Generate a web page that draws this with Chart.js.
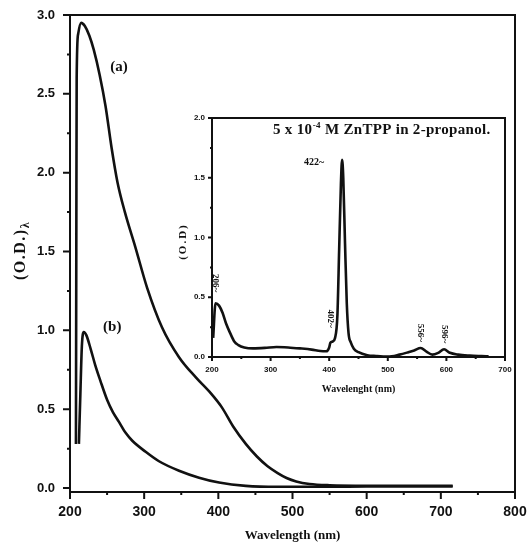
<!DOCTYPE html>
<html>
<head>
<meta charset="utf-8">
<script src="https://cdn.jsdelivr.net/npm/chart.js@4.4.0/dist/chart.umd.min.js"></script>
<style>
  html, body { margin: 0; padding: 0; background: #fff; }
  #wrap { position: relative; width: 529px; height: 543px; }
  #main { position: absolute; left: 0; top: 0; }
  #inset { position: absolute; left: 170px; top: 100px; }
</style>
</head>
<body>
<div id="wrap">
  <canvas id="main" width="529" height="543"></canvas>
  <canvas id="inset" width="345" height="300"></canvas>
</div>
<script>
// main spectra: (a) and (b)
var waveA = [208, 208.5, 209, 211, 215, 220, 226, 232, 240, 248, 256, 264, 274, 288, 304, 324, 347, 370, 390, 405, 420, 437, 452, 466, 480, 492, 505, 523, 550, 600, 650, 716];
var odA = [0.28, 1.5, 2.6, 2.88, 2.95, 2.93, 2.87, 2.78, 2.62, 2.42, 2.16, 1.94, 1.75, 1.53, 1.27, 1.02, 0.83, 0.70, 0.60, 0.51, 0.39, 0.28, 0.20, 0.14, 0.095, 0.064, 0.042, 0.026, 0.018, 0.015, 0.015, 0.015];
var waveB = [212, 214, 216, 218.5, 222, 228, 234, 241, 250, 258, 266, 275, 284, 302, 320, 347, 374, 401, 437, 480, 550, 600, 650, 716];
var odB = [0.28, 0.6, 0.9, 0.99, 0.97, 0.88, 0.78, 0.68, 0.56, 0.48, 0.42, 0.35, 0.30, 0.23, 0.17, 0.11, 0.066, 0.035, 0.014, 0.008, 0.008, 0.01, 0.01, 0.01];
var mainXTicks = [200, 300, 400, 500, 600, 700, 800];
var mainYTicks = [0, 0.5, 1.0, 1.5, 2.0, 2.5, 3.0];

// inset: ZnTPP in 2-propanol
var insetWave = [202, 206, 212, 218, 224, 231, 238, 245, 255, 270, 290, 310, 330, 350, 370, 385, 395, 400, 402, 406, 410, 414, 417, 420, 422, 424, 427, 430, 433, 437, 442, 450, 465, 480, 500, 520, 535, 545, 556, 566, 576, 586, 596, 606, 620, 640, 660, 672];
var insetOd = [0.16, 0.45, 0.43, 0.37, 0.28, 0.20, 0.13, 0.10, 0.08, 0.072, 0.076, 0.084, 0.08, 0.072, 0.062, 0.05, 0.048, 0.08, 0.12, 0.13, 0.16, 0.35, 0.9, 1.45, 1.65, 1.5, 0.95, 0.45, 0.2, 0.12, 0.07, 0.04, 0.015, 0.008, 0.003, 0.02, 0.04, 0.055, 0.075, 0.045, 0.02, 0.035, 0.065, 0.035, 0.02, 0.012, 0.008, 0.006];
var insetPeaks = [206, 402, 422, 556, 596];
var insetXTicks = [200, 300, 400, 500, 600, 700];
var insetYTicks = [0, 0.5, 1.0, 1.5, 2.0];

var INK = '#111';
var SANS = 'Liberation Sans';
var SERIF = 'Liberation Serif';

function pairs(xs, ys) {
  return xs.map(function (x, i) { return { x: x, y: ys[i] }; });
}

function midpoints(arr) {
  var out = [];
  for (var i = 0; i < arr.length - 1; i++) out.push((arr[i] + arr[i + 1]) / 2);
  return out;
}

// box round the plot area plus outward major/minor ticks
var frame = {
  id: 'frame',
  afterDatasetsDraw: function (chart, args, o) {
    var ctx = chart.ctx, a = chart.chartArea;
    var x = chart.scales.x, y = chart.scales.y;
    ctx.save();
    ctx.strokeStyle = INK;
    ctx.lineWidth = o.width;
    ctx.strokeRect(a.left, a.top, a.right - a.left, a.bottom - a.top);
    ctx.beginPath();
    o.xTicks.forEach(function (v) {
      var p = x.getPixelForValue(v);
      ctx.moveTo(p, a.bottom); ctx.lineTo(p, a.bottom + o.major);
    });
    midpoints(o.xTicks).forEach(function (v) {
      var p = x.getPixelForValue(v);
      ctx.moveTo(p, a.bottom); ctx.lineTo(p, a.bottom + o.minor);
    });
    o.yTicks.forEach(function (v) {
      var p = y.getPixelForValue(v);
      ctx.moveTo(a.left, p); ctx.lineTo(a.left - o.major, p);
    });
    midpoints(o.yTicks).forEach(function (v) {
      var p = y.getPixelForValue(v);
      ctx.moveTo(a.left + 1, p); ctx.lineTo(a.left - o.minor, p);
    });
    ctx.stroke();
    ctx.restore();
  }
};

// rotated y title, slightly letter-spaced, with optional subscript
function yTitle(ctx, cx, cy, text, size, spacing, sub) {
  ctx.save();
  ctx.translate(cx, cy);
  ctx.rotate(-Math.PI / 2);
  ctx.fillStyle = INK;
  ctx.font = 'bold ' + size + 'px ' + SERIF;
  try { ctx.letterSpacing = spacing + 'px'; } catch (e) {}
  ctx.textBaseline = 'middle';
  var w = ctx.measureText(text).width;
  var sw = 0;
  if (sub) {
    ctx.font = 'bold ' + Math.round(size * 0.75) + 'px ' + SERIF;
    sw = ctx.measureText(sub).width;
    ctx.font = 'bold ' + size + 'px ' + SERIF;
  }
  var x0 = -(w + sw) / 2;
  ctx.textAlign = 'left';
  ctx.fillText(text, x0, 0);
  if (sub) {
    ctx.font = 'bold ' + Math.round(size * 0.75) + 'px ' + SERIF;
    ctx.fillText(sub, x0 + w, size * 0.3);
  }
  ctx.restore();
}

var mainNotes = {
  id: 'mainNotes',
  afterDraw: function (chart) {
    var ctx = chart.ctx, a = chart.chartArea;
    var x = chart.scales.x, y = chart.scales.y;
    yTitle(ctx, 21, (a.top + a.bottom) / 2 - 3, '(O.D.)', 16, 1.5, 'λ');
    ctx.save();
    ctx.fillStyle = INK;
    ctx.font = 'bold 15px ' + SERIF;
    ctx.textAlign = 'center';
    ctx.textBaseline = 'middle';
    ctx.fillText('(a)', x.getPixelForValue(266), y.getPixelForValue(2.67));
    ctx.fillText('(b)', x.getPixelForValue(257), y.getPixelForValue(1.02));
    ctx.restore();
  }
};

var insetNotes = {
  id: 'insetNotes',
  afterDraw: function (chart) {
    var ctx = chart.ctx, a = chart.chartArea;
    var x = chart.scales.x, y = chart.scales.y;
    yTitle(ctx, 13, (a.top + a.bottom) / 2 + 4, '(O.D)', 11, 2);

    ctx.save();
    ctx.fillStyle = INK;
    // heading with superscript exponent
    var bx = a.left + 61, by = a.top + 16;
    ctx.textBaseline = 'alphabetic';
    ctx.textAlign = 'left';
    try { ctx.letterSpacing = '0.3px'; } catch (e) {}
    ctx.font = 'bold 15px ' + SERIF;
    ctx.fillText('5 x 10', bx, by);
    bx += ctx.measureText('5 x 10').width + 0.5;
    ctx.font = 'bold 9px ' + SERIF;
    ctx.fillText('-4', bx, by - 6);
    bx += ctx.measureText('-4').width;
    ctx.font = 'bold 15px ' + SERIF;
    ctx.fillText(' M ZnTPP in 2-propanol.', bx, by);
    try { ctx.letterSpacing = '0px'; } catch (e) {}

    // peak markers
    var gaps = { 206: 11, 402: 15, 556: 6, 596: 6 };
    insetPeaks.forEach(function (nm) {
      var v = insetOd[insetWave.indexOf(nm)];
      var px = x.getPixelForValue(nm), py = y.getPixelForValue(v);
      var label = nm + '~';
      if (nm === 422) {
        ctx.font = 'bold 10px ' + SERIF;
        ctx.textAlign = 'right';
        ctx.textBaseline = 'middle';
        ctx.fillText(label, px - 18, py + 3);
      } else {
        ctx.save();
        ctx.font = 'bold 9px ' + SERIF;
        ctx.translate(px, py - gaps[nm]);
        ctx.rotate(Math.PI / 2);
        ctx.textAlign = 'right';
        ctx.textBaseline = 'middle';
        ctx.fillText(label, 0, 0);
        ctx.restore();
      }
    });
    ctx.restore();
  }
};

// tick marks are drawn by the frame plugin; the invisible tickLength only
// pushes the labels away from the axis
function scaleX(min, max, ticks, height, gap, size, title, titleSize, titlePad) {
  return {
    type: 'linear', min: min, max: max,
    afterBuildTicks: function (s) { s.ticks = ticks.map(function (v) { return { value: v }; }); },
    afterFit: function (s) { s.height = height; },
    grid: { display: false, drawTicks: true, tickLength: gap },
    border: { display: false },
    ticks: { padding: 2, color: INK, maxRotation: 0, autoSkip: false,
      font: { family: SANS, weight: 'bold', size: size },
      callback: function (v) { return String(v); } },
    title: { display: true, text: title, color: INK,
      font: { family: SERIF, weight: 'bold', size: titleSize },
      padding: { top: 0, bottom: titlePad } }
  };
}

function scaleY(min, max, ticks, width, gap, size) {
  return {
    type: 'linear', min: min, max: max,
    afterBuildTicks: function (s) { s.ticks = ticks.map(function (v) { return { value: v }; }); },
    afterFit: function (s) { s.width = width; },
    grid: { display: false, drawTicks: true, tickLength: gap },
    border: { display: false },
    ticks: { padding: 2, color: INK, autoSkip: false,
      font: { family: SANS, weight: 'bold', size: size },
      callback: function (v) { return v.toFixed(1); } }
  };
}

var lineStyle = {
  borderColor: INK, borderWidth: 2.6, pointRadius: 0, fill: false,
  cubicInterpolationMode: 'monotone'
};

new Chart(document.getElementById('main'), {
  type: 'line',
  data: {
    datasets: [
      Object.assign({ label: '(a)', data: pairs(waveA, odA) }, lineStyle),
      Object.assign({ label: '(b)', data: pairs(waveB, odB) }, lineStyle)
    ]
  },
  options: {
    responsive: false,
    animation: false,
    devicePixelRatio: 1,
    layout: { padding: { left: 0, right: 14, top: 15, bottom: 0 } },
    plugins: {
      legend: { display: false },
      tooltip: { enabled: false },
      frame: { width: 2, major: 7, minor: 3, xTicks: mainXTicks, yTicks: mainYTicks }
    },
    scales: {
      x: scaleX(200, 800, mainXTicks, 51, 10, 14, 'Wavelength (nm)', 13, 0),
      y: scaleY(-0.025, 3.0, mainYTicks, 70, 13, 13)
    }
  },
  plugins: [frame, mainNotes]
});

new Chart(document.getElementById('inset'), {
  type: 'line',
  data: {
    datasets: [
      Object.assign({ label: 'ZnTPP', data: pairs(insetWave, insetOd) }, lineStyle)
    ]
  },
  options: {
    responsive: false,
    animation: false,
    devicePixelRatio: 1,
    layout: { padding: { left: 0, right: 10, top: 18, bottom: 0 } },
    plugins: {
      legend: { display: false },
      tooltip: { enabled: false },
      frame: { width: 2, major: 4, minor: 2, xTicks: insetXTicks, yTicks: insetYTicks }
    },
    scales: {
      x: scaleX(200, 700, insetXTicks, 43, 6, 8, 'Wavelenght (nm)', 10, 5),
      y: scaleY(0, 2.0, insetYTicks, 42, 5, 8)
    }
  },
  plugins: [frame, insetNotes]
});
</script>
</body>
</html>
